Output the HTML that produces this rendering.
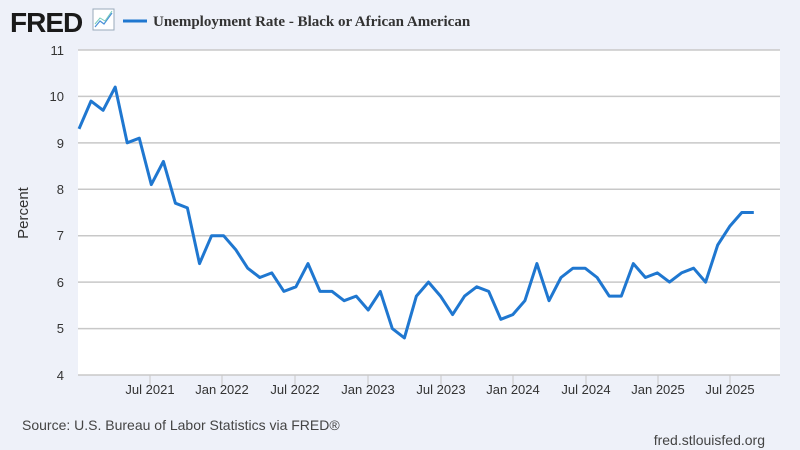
<!DOCTYPE html>
<html><head><meta charset="utf-8"><style>
html,body{margin:0;padding:0;background:#eef1f9;}
svg{display:block;font-family:"Liberation Sans",sans-serif;}
</style></head><body>
<svg width="800" height="450" viewBox="0 0 800 450">
<rect width="800" height="450" fill="#eef1f9"/>
<text x="10" y="32" font-size="28" font-weight="bold" fill="#1a1a1a" letter-spacing="-1">FRED</text>
<rect x="93" y="9" width="21" height="21" fill="#fff" stroke="#9ab" stroke-width="1"/>
<polyline points="95,27 100,21 104,24 112,13" fill="none" stroke="#4a90d9" stroke-width="1.2"/>
<polyline points="95,24 100,18 105,21 112,11" fill="none" stroke="#7cb" stroke-width="1"/>
<line x1="123" y1="21" x2="147" y2="21" stroke="#1f77d0" stroke-width="3"/>
<text x="153" y="26" font-family="Liberation Serif,serif" font-size="15" font-weight="bold" fill="#333">Unemployment Rate - Black or African American</text>
<rect x="78" y="50" width="702" height="325" fill="#fff"/>
<g stroke="#c8c8c8" stroke-width="1.5">
<line x1="78" y1="50" x2="780" y2="50"/><line x1="78" y1="96.4" x2="780" y2="96.4"/>
<line x1="78" y1="142.9" x2="780" y2="142.9"/><line x1="78" y1="189.3" x2="780" y2="189.3"/>
<line x1="78" y1="235.7" x2="780" y2="235.7"/><line x1="78" y1="282.1" x2="780" y2="282.1"/>
<line x1="78" y1="328.6" x2="780" y2="328.6"/><line x1="78" y1="375" x2="780" y2="375"/>
</g>
<g stroke="#c8c8c8" stroke-width="1">
<line x1="150" y1="375" x2="150" y2="385"/><line x1="222" y1="375" x2="222" y2="385"/>
<line x1="295" y1="375" x2="295" y2="385"/><line x1="368" y1="375" x2="368" y2="385"/>
<line x1="441" y1="375" x2="441" y2="385"/><line x1="513" y1="375" x2="513" y2="385"/>
<line x1="586" y1="375" x2="586" y2="385"/><line x1="658" y1="375" x2="658" y2="385"/>
<line x1="730" y1="375" x2="730" y2="385"/>
</g>
<g font-size="13" fill="#333" text-anchor="end">
<text x="64" y="55">11</text><text x="64" y="101">10</text><text x="64" y="148">9</text>
<text x="64" y="194">8</text><text x="64" y="240">7</text><text x="64" y="287">6</text>
<text x="64" y="333">5</text><text x="64" y="380">4</text>
</g>
<g font-size="13" fill="#333" text-anchor="middle">
<text x="150" y="394">Jul 2021</text><text x="222" y="394">Jan 2022</text>
<text x="295" y="394">Jul 2022</text><text x="368" y="394">Jan 2023</text>
<text x="441" y="394">Jul 2023</text><text x="513" y="394">Jan 2024</text>
<text x="586" y="394">Jul 2024</text><text x="658" y="394">Jan 2025</text>
<text x="730" y="394">Jul 2025</text>
</g>
<text transform="translate(28,213) rotate(-90)" font-size="15" fill="#333" text-anchor="middle">Percent</text>
<polyline id="ln" fill="none" stroke="#1f77d0" stroke-width="3" stroke-linejoin="round" points=""/>
<text x="22" y="430" font-size="14" fill="#444">Source: U.S. Bureau of Labor Statistics via FRED®</text>
<text x="765" y="445" font-size="14" fill="#444" text-anchor="end">fred.stlouisfed.org</text>
</svg>
<script>
var d=[9.3,9.9,9.7,10.2,9.0,9.1,8.1,8.6,7.7,7.6,6.4,7.0,7.0,6.7,6.3,6.1,6.2,5.8,5.9,6.4,5.8,5.8,5.6,5.7,5.4,5.8,5.0,4.8,5.7,6.0,5.7,5.3,5.7,5.9,5.8,5.2,5.3,5.6,6.4,5.6,6.1,6.3,6.3,6.1,5.7,5.7,6.4,6.1,6.2,6.0,6.2,6.3,6.0,6.8,7.2,7.5,7.5];
var p=d.map(function(v,i){return (79+i*12.05).toFixed(1)+","+(375-(v-4)*46.43).toFixed(1);}).join(" ");
document.getElementById("ln").setAttribute("points",p);
</script>
</body></html>
